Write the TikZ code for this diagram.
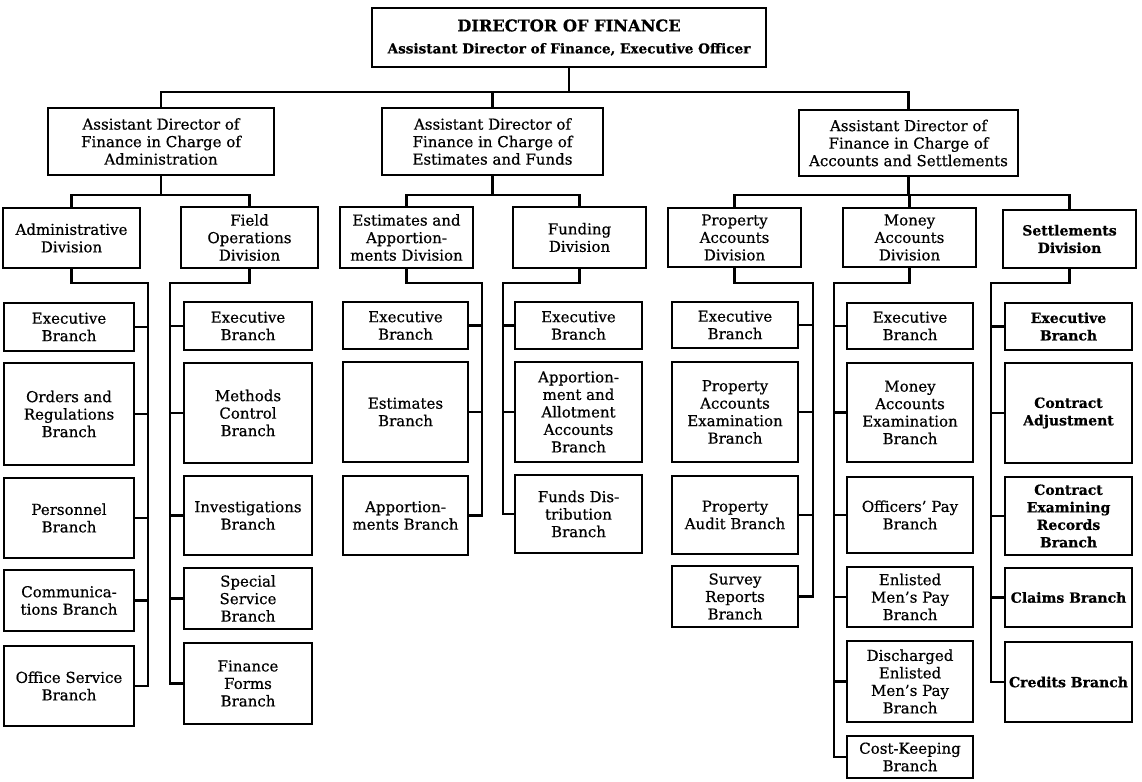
\documentclass[tikz,border=0pt]{standalone}
\usepackage{fontspec}
\setmainfont{DejaVu Serif}[FakeBold=0.6]
\tikzset{
  box/.style={draw, line width=1.8pt, inner sep=0pt, outer sep=0pt, align=center,
    font=\fontsize{15}{17.5}\selectfont},
  conn/.style={line width=2.8pt, line join=miter, line cap=rect},
  bold/.style={font=\bfseries\fontsize{14}{17.5}\selectfont}
}
\newcommand\bx[7][]{\node[box,#1, minimum width={#5-#3}, minimum height={#6-#4}] (#2) at ({(#3+#5)/2},{(#4+#6)/2}) {#7};}
\begin{document}
\begin{tikzpicture}[x=1pt,y=-1pt]
\useasboundingbox (0,0) rectangle (1142,781);
% top
\bx[font=\bfseries\fontsize{13.6}{22}\selectfont]{dir}{372}{8}{766}{67}{{\fontsize{16.2}{18}\selectfont DIRECTOR OF FINANCE}\\Assistant Director of Finance, Executive Officer}
% assistant directors
\bx{adA}{48}{108}{274}{175}{Assistant Director of\\Finance in Charge of\\Administration}
\bx{adE}{382}{108}{603}{175}{Assistant Director of\\Finance in Charge of\\Estimates and Funds}
\bx{adS}{799}{110}{1018}{176}{Assistant Director of\\Finance in Charge of\\Accounts and Settlements}
% divisions
\bx{dA}{3}{208}{140}{268}{Administrative\\Division}
\bx{dF}{181}{207}{318}{268}{Field\\Operations\\Division}
\bx{dEA}{340}{207}{473}{268}{Estimates and\\Apportion-\\ments Division}
\bx{dFu}{513}{207}{646}{268}{Funding\\Division}
\bx{dP}{668}{208}{801}{267}{Property\\Accounts\\Division}
\bx{dM}{843}{208}{976}{267}{Money\\Accounts\\Division}
\bx[bold]{dS}{1003}{210}{1136}{268}{Settlements\\Division}
% administrative branches
\bx{bA1}{4}{303}{134}{351}{Executive\\Branch}
\bx{bA2}{4}{363}{134}{465}{Orders and\\Regulations\\Branch}
\bx{bA3}{4}{478}{134}{558}{Personnel\\Branch}
\bx{bA4}{4}{570}{134}{631}{Communica-\\tions Branch}
\bx{bA5}{4}{646}{134}{726}{Office Service\\Branch}
% field operations branches
\bx{bF1}{184}{302}{312}{350}{Executive\\Branch}
\bx{bF2}{184}{363}{312}{463}{Methods\\Control\\Branch}
\bx{bF3}{184}{476}{312}{555}{Investigations\\Branch}
\bx{bF4}{184}{568}{312}{629}{Special\\Service\\Branch}
\bx{bF5}{184}{643}{312}{724}{Finance\\Forms\\Branch}
% estimates branches
\bx{bE1}{343}{302}{468}{349}{Executive\\Branch}
\bx{bE2}{343}{362}{468}{462}{Estimates\\Branch}
\bx{bE3}{343}{476}{468}{555}{Apportion-\\ments Branch}
% funding branches
\bx{bU1}{515}{302}{642}{349}{Executive\\Branch}
\bx{bU2}{515}{362}{642}{462}{Apportion-\\ment and\\Allotment\\Accounts\\Branch}
\bx{bU3}{515}{475}{642}{553}{Funds Dis-\\tribution\\Branch}
% property branches
\bx{bP1}{672}{302}{798}{348}{Executive\\Branch}
\bx{bP2}{672}{362}{798}{462}{Property\\Accounts\\Examination\\Branch}
\bx{bP3}{672}{476}{798}{554}{Property\\Audit Branch}
\bx{bP4}{672}{566}{798}{627}{Survey\\Reports\\Branch}
% money branches
\bx{bM1}{847}{303}{973}{349}{Executive\\Branch}
\bx{bM2}{847}{363}{973}{462}{Money\\Accounts\\Examination\\Branch}
\bx{bM3}{847}{477}{973}{553}{Officers’ Pay\\Branch}
\bx{bM4}{847}{567}{973}{627}{Enlisted\\Men’s Pay\\Branch}
\bx{bM5}{847}{641}{973}{722}{Discharged\\Enlisted\\Men’s Pay\\Branch}
\bx{bM6}{847}{736}{973}{778}{Cost-Keeping\\Branch}
% settlements branches
\bx[bold]{bS1}{1005}{303}{1132}{350}{Executive\\Branch}
\bx[bold]{bS2}{1005}{363}{1132}{463}{Contract\\Adjustment}
\bx[bold]{bS3}{1005}{477}{1132}{555}{Contract\\Examining\\Records\\Branch}
\bx[bold]{bS4}{1005}{568}{1132}{627}{Claims Branch}
\bx[bold]{bS5}{1005}{642}{1132}{722}{Credits Branch}
% buses
\coordinate (bus) at (0,92);
\coordinate (sb) at (0,195);
\draw[conn] (dir.south) -- (dir.south |- bus);
\draw[conn] (adA.north) -- (adA.north |- bus) -- (adS.north |- bus) -- (adS.north);
\draw[conn] (adE.north) -- (adE.north |- bus);
\draw[conn] (adA.south) -- (adA.south |- sb);
\draw[conn] (dA.north) -- (dA.north |- sb) -- (dF.north |- sb) -- (dF.north);
\draw[conn] (adE.south) -- (adE.south |- sb);
\draw[conn] (dEA.north) -- (dEA.north |- sb) -- (dFu.north |- sb) -- (dFu.north);
\draw[conn] (adS.south) -- (adS.south |- sb);
\draw[conn] (dP.north) -- (dP.north |- sb) -- (dS.north |- sb) -- (dS.north);
\draw[conn] (dM.north) -- (dM.north |- sb);
% trunks
\coordinate (tA) at (148,283);
\coordinate (tF) at (170,283);
\coordinate (tE) at (482,283);
\coordinate (tU) at (503,283);
\coordinate (tP) at (813,283);
\coordinate (tM) at (834,283);
\coordinate (tS) at (991,283);
\draw[conn] (dA.south) |- (tA) -- (tA |- bA5.east);
\draw[conn] (dF.south) |- (tF) -- (tF |- bF5.west);
\draw[conn] (dEA.south) |- (tE) -- (tE |- bE3.east);
\draw[conn] (dFu.south) |- (tU) -- (tU |- bU3.west);
\draw[conn] (dP.south) |- (tP) -- (tP |- bP4.east);
\draw[conn] (dM.south) |- (tM) -- (tM |- bM6.west);
\draw[conn] (dS.south) |- (tS) -- (tS |- bS5.west);
\foreach \b in {bA1,bA2,bA3,bA4,bA5} \draw[conn] (\b.east) -- (\b.east -| tA);
\foreach \b in {bF1,bF2,bF3,bF4,bF5} \draw[conn] (\b.west) -- (\b.west -| tF);
\foreach \b in {bE1,bE2,bE3} \draw[conn] (\b.east) -- (\b.east -| tE);
\foreach \b in {bU1,bU2,bU3} \draw[conn] (\b.west) -- (\b.west -| tU);
\foreach \b in {bP1,bP2,bP3,bP4} \draw[conn] (\b.east) -- (\b.east -| tP);
\foreach \b in {bM1,bM2,bM3,bM4,bM5,bM6} \draw[conn] (\b.west) -- (\b.west -| tM);
\foreach \b in {bS1,bS2,bS3,bS4,bS5} \draw[conn] (\b.west) -- (\b.west -| tS);
\end{tikzpicture}
\end{document}
